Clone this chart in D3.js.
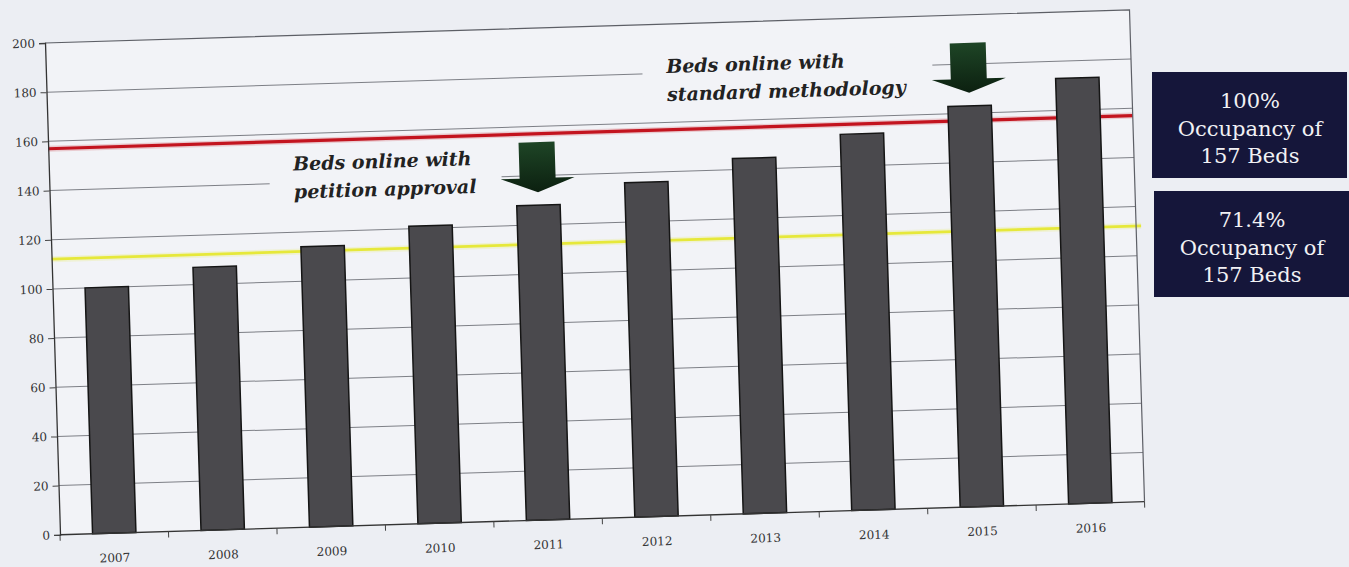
<!DOCTYPE html>
<html>
<head>
<meta charset="utf-8">
<script src="https://cdn.jsdelivr.net/npm/d3@7"></script>
<style>
  html, body { margin: 0; padding: 0; background: #eceef3; }
  svg { display: block; }
</style>
</head>
<body>
<svg id="chart" width="1349" height="567"></svg>
<script>
// ---------- DATA ----------
const years = ["2007", "2008", "2009", "2010", "2011", "2012", "2013", "2014", "2015", "2016"];
const patientDays = [100, 107, 114, 121, 128, 136, 144.5, 153, 163, 173];
const yTicks = [0, 20, 40, 60, 80, 100, 120, 140, 160, 180, 200];
const occupancyLevels = [157, 112.1];           // 100% and 71.4% of 157 beds
const occupancyLabels = [
  ["100%", "Occupancy of", "157 Beds"],
  ["71.4%", "Occupancy of", "157 Beds"]
];
const arrowYears = ["2011", "2015"];
const arrowNotes = [
  ["Beds online with", "petition approval"],
  ["Beds online with", "standard methodology"]
];

// ---------- LAYOUT ----------
const W = 1085, H = 492;
const origin = [45, 43];
const tilt = -1.75;
const noteOffsets = [-244, -302];
const lineColors = ["#c3141f", "#e6e83a"];

const svg = d3.select("#chart");
const defs = svg.append("defs");
const grad = defs.append("linearGradient").attr("id", "arrowGrad")
  .attr("x1", 0).attr("y1", 0).attr("x2", 0).attr("y2", 1);
grad.append("stop").attr("offset", "0%").attr("stop-color", "#1e4526");
grad.append("stop").attr("offset", "100%").attr("stop-color", "#0c2010");

const g = svg.append("g")
  .attr("transform", `translate(${origin[0]},${origin[1]}) rotate(${tilt})`);

const x = d3.scaleBand().domain(years).range([0, W]).paddingInner(0.6).paddingOuter(0.3);
const y = d3.scaleLinear().domain([0, 200]).range([H, 0]);

// plot background
g.append("rect").attr("x", 0).attr("y", 0).attr("width", W).attr("height", H)
  .attr("fill", "#f2f3f7");

// gridlines
g.append("g").selectAll("line").data(yTicks.filter(d => d > 0 && d < 200)).join("line")
  .attr("x1", 0).attr("x2", W)
  .attr("y1", d => y(d)).attr("y2", d => y(d))
  .attr("stroke", "#7d7f86").attr("stroke-width", 1);

// occupancy lines
occupancyLevels.forEach((v, i) => {
  g.append("line").attr("x1", 0).attr("x2", W + (i === 1 ? 5 : 0))
    .attr("y1", y(v)).attr("y2", y(v))
    .attr("stroke", lineColors[i]).attr("stroke-opacity", 0.18).attr("stroke-width", 6);
  g.append("line").attr("x1", 0).attr("x2", W + (i === 1 ? 5 : 0))
    .attr("y1", y(v)).attr("y2", y(v))
    .attr("stroke", lineColors[i]).attr("stroke-width", i === 0 ? 3.2 : 2.8);
});

// bars
g.append("g").selectAll("rect").data(years).join("rect")
  .attr("x", d => x(d))
  .attr("y", (d, i) => y(patientDays[i]))
  .attr("width", x.bandwidth())
  .attr("height", (d, i) => H - y(patientDays[i]))
  .attr("fill", "#4a494d")
  .attr("stroke", "#151515").attr("stroke-width", 1.5);

// annotation notes with background and arrows
arrowYears.forEach((yr, i) => {
  const idx = years.indexOf(yr);
  const cx = x(yr) + x.bandwidth() / 2;
  const tip = y(patientDays[idx]) - 13;
  const top = tip - 50;
  const left = cx + noteOffsets[i];
  g.append("rect")
    .attr("x", left - 24).attr("y", top + 2)
    .attr("width", cx - 36 - (left - 24)).attr("height", 60)
    .attr("fill", "#f2f3f7");
  const t = g.append("text")
    .attr("x", left).attr("y", top + 21)
    .attr("font-family", "'DejaVu Serif', serif")
    .attr("font-style", "italic").attr("font-weight", "bold")
    .attr("font-size", 19).attr("fill", "#222");
  arrowNotes[i].forEach((ln, j) => {
    t.append("tspan").attr("x", left).attr("dy", j === 0 ? 0 : 28).text(ln);
  });
  const p = d3.path();
  p.moveTo(cx - 18, top);
  p.lineTo(cx + 18, top);
  p.lineTo(cx + 18, top + 36);
  p.lineTo(cx + 37, top + 36);
  p.lineTo(cx, tip);
  p.lineTo(cx - 37, top + 36);
  p.lineTo(cx - 18, top + 36);
  p.closePath();
  g.append("path").attr("d", p.toString()).attr("fill", "url(#arrowGrad)");
});

// plot border (top & right)
g.append("path")
  .attr("d", `M0,0H${W}V${H}`)
  .attr("fill", "none").attr("stroke", "#5d5f66").attr("stroke-width", 1.2);

// y axis
const yAxis = g.append("g").call(d3.axisLeft(y).tickValues(yTicks).tickSize(6).tickPadding(4));
yAxis.select(".domain").attr("stroke", "#333").attr("stroke-width", 1.3);
yAxis.selectAll(".tick line").attr("stroke", "#444");
yAxis.selectAll("text").attr("font-family", "'DejaVu Serif', serif")
  .attr("font-size", 12).attr("fill", "#333");

// x axis with boundary ticks
const xAxisG = g.append("g").attr("transform", `translate(0,${H})`);
xAxisG.append("line").attr("x1", 0).attr("x2", W).attr("stroke", "#333").attr("stroke-width", 1.3);
const bounds = years.map(d => x(d) - x.step() * x.paddingInner() / 2).concat([W]);
xAxisG.selectAll(".bt").data(bounds).join("line").attr("class", "bt")
  .attr("x1", d => d).attr("x2", d => d).attr("y1", 0).attr("y2", 6)
  .attr("stroke", "#444");
xAxisG.selectAll(".xl").data(years).join("text").attr("class", "xl")
  .attr("x", d => x(d) + x.bandwidth() / 2).attr("y", 29)
  .attr("text-anchor", "middle")
  .attr("font-family", "'DejaVu Serif', serif")
  .attr("font-size", 12).attr("fill", "#333").text(d => d);

// right-side legend boxes
const boxes = svg.append("g");
occupancyLabels.forEach((lines, i) => {
  const bx = 1152 + i * 2, by = 72 + i * 119;
  boxes.append("rect").attr("x", bx).attr("y", by).attr("width", 195).attr("height", 106)
    .attr("fill", "#15163a");
  const t = boxes.append("text").attr("text-anchor", "middle")
    .attr("font-family", "'DejaVu Serif', serif").attr("font-size", 21)
    .attr("fill", "#f1f1f4");
  lines.forEach((ln, j) => {
    t.append("tspan").attr("x", bx + 98).attr("y", by + 36 + j * 27.5).text(ln);
  });
});
</script>
</body>
</html>
